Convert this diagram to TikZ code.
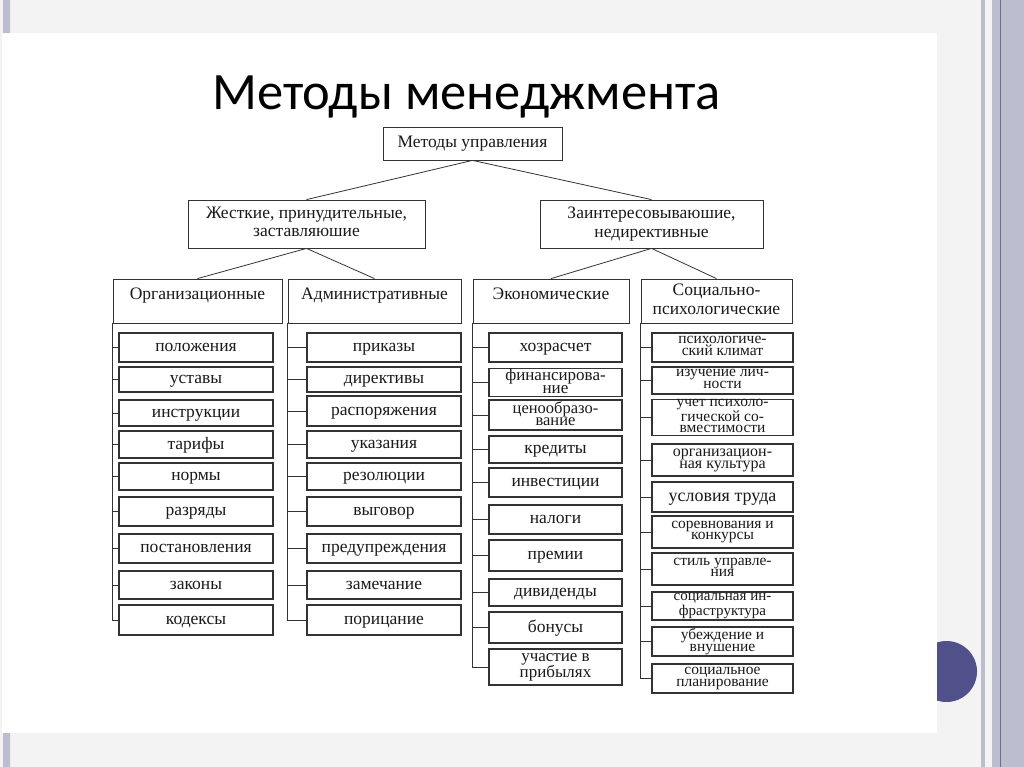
\documentclass[tikz,border=0pt]{standalone}
\usepackage{fontspec}
\setmainfont{Liberation Serif}
\newfontfamily\headfont{Carlito}
\usepackage{tikz}
\usetikzlibrary{positioning,calc}
\definecolor{slide}{HTML}{F3F3F4}
\definecolor{barlt}{HTML}{BDBDD0}
\definecolor{bardk}{HTML}{6C6C94}
\definecolor{dot}{HTML}{50508A}
\definecolor{ink}{HTML}{1A1A1A}
\definecolor{frame}{HTML}{333333}

\begin{document}
\begin{tikzpicture}[x=1pt,y=-1pt,
  box/.style={draw=frame,line width=0.8pt,inner sep=0pt,align=center,text=ink,
    font=\fontsize{17.5}{18.5}\selectfont,text depth=4pt,execute at begin node={\vphantom{Б}}},
  group/.style={box,minimum height=44pt,text height=12pt,text depth=15pt},
  leaf/.style={box,line width=1.1pt,text depth=3pt},
  link/.style={draw=frame,line width=0.8pt}]
  \useasboundingbox (0,0) rectangle (1024,767);
  % slide
  \fill[slide] (0,0) rectangle (1024,767);
  \fill[white] (2,33) rectangle (937,733);
  \fill[barlt] (3,0) rectangle (10,33) (3,733) rectangle (10,767);
  \fill[barlt] (981,0) rectangle (985,767);
  \fill[barlt] (992,0) rectangle (1024,767);
  \draw[bardk,line width=1pt] (1000,0) -- (1000,767);
  \draw[bardk!45,line width=1pt] (1009,0) -- (1009,767);
  \begin{scope}
    \clip (937,600) rectangle (990,740);
    \fill[dot] (946.5,671.5) circle (30.5);
  \end{scope}
  \node[font=\headfont\fontsize{52.5}{54}\selectfont,anchor=base] (title) at (466.5,110) {Методы менеджмента};

  % upper levels
  \node[box,minimum width=179pt,minimum height=33pt] (top) at (472.5,143.5) {Методы управления};
  \node[box,minimum width=237pt,minimum height=48pt] (hard) at (306.5,224) {Жесткие, принудительные,\\заставляюшие};
  \node[box,minimum width=223pt,minimum height=48pt] (soft) at (651.5,224) {Заинтересовываюшие,\\недирективные};
  \node[group,minimum width=169pt] (org) at (197.5,301) {Организационные};
  \node[group,minimum width=173pt] (adm) at (374.5,301) {Административные};
  \node[group,minimum width=156pt] (eco) at (551,301) {Экономические};
  \node[box,minimum width=151pt,minimum height=44pt] (soc) at (716.5,301) {Социально-\\психологические};
  \draw[link] (top.south) -- (hard.north);
  \draw[link] (top.south) -- (soft.north);
  \draw[link] (hard.south) -- (org.north);
  \draw[link] (hard.south) -- (adm.north);
  \draw[link] (soft.south) -- (eco.north);
  \draw[link] (soft.south) -- (soc.north);

  % leaves
  \foreach \i/\y/\h/\txt in {1/347.5/29/положения, 2/379.5/25/уставы, 3/413/26/инструкции, 4/444.5/27/тарифы, 5/476.5/27/нормы, 6/511.5/29/разряды, 7/548.5/29/постановления, 8/585/28/законы, 9/620/30/кодексы}
    \node[leaf,minimum width=154pt,minimum height=\h pt] (org\i) at (196,\y) {\txt};
  \foreach \i/\y/\h/\txt in {1/347.5/29/приказы, 2/379.5/25/директивы, 3/411/30/распоряжения, 4/444.5/27/указания, 5/476.5/27/резолюции, 6/511.5/29/выговор, 7/548.5/29/предупреждения, 8/585/28/замечание, 9/620/30/порицание}
    \node[leaf,minimum width=154pt,minimum height=\h pt] (adm\i) at (384,\y) {\txt};
  \foreach \i/\y/\h/\s/\txt in {1/347.5/29/17.5/хозрасчет, 2/382.5/27/17/{финансирова-\\ние}, 3/415/30/16.5/{ценообразо-\\вание}, 4/449.5/27/17.5/кредиты, 5/482.5/29/17.5/инвестиции, 6/519.5/29/17.5/налоги, 7/555.5/31/17.5/премии, 8/592.5/27/17.5/дивиденды, 9/627.5/31/17.5/бонусы, 10/667/36/17/{участие в\\прибылях}}
    \node[leaf,minimum width=133pt,minimum height=\h pt,font=\fontsize{\s}{11.5}\selectfont] (eco\i) at (555.5,\y) {\txt};
  \foreach \i/\y/\h/\s/\txt in {1/347.5/29/15.5/{психологиче-\\ский климат}, 2/380.5/27/15.5/{изучение лич-\\ности}, 3/417.5/36/15.5/{учет психоло-\\гической со-\\вместимости}, 4/460/32/16/{организацион-\\ная культура}, 5/497/30/18/условия труда, 6/532/32/15.5/{соревнования и\\конкурсы}, 7/569/32/15.5/{стиль управле-\\ния}, 8/606/28/15/{социальная ин-\\фраструктура}, 9/641.5/29/15.5/{убеждение и\\внушение}, 10/678.5/29/15.5/{социальное\\планирование}}
    \node[leaf,minimum width=141pt,minimum height=\h pt,font=\fontsize{\s}{11.5}\selectfont] (soc\i) at (722.5,\y) {\txt};

  % spines
  \draw[link] (org.south west) |- (org9.west);
  \draw[link] (adm.south west) |- (adm9.west);
  \draw[link] (eco.south west) |- (eco10.west);
  \draw[link] (soc.south west) |- (soc10.west);
  \foreach \i in {1,...,8}{
    \draw[link] (org.south west |- org\i.west) -- (org\i.west);
    \draw[link] (adm.south west |- adm\i.west) -- (adm\i.west);
  }
  \foreach \i in {1,...,9}{
    \draw[link] (eco.south west |- eco\i.west) -- (eco\i.west);
    \draw[link] (soc.south west |- soc\i.west) -- (soc\i.west);
  }
\end{tikzpicture}
\end{document}
